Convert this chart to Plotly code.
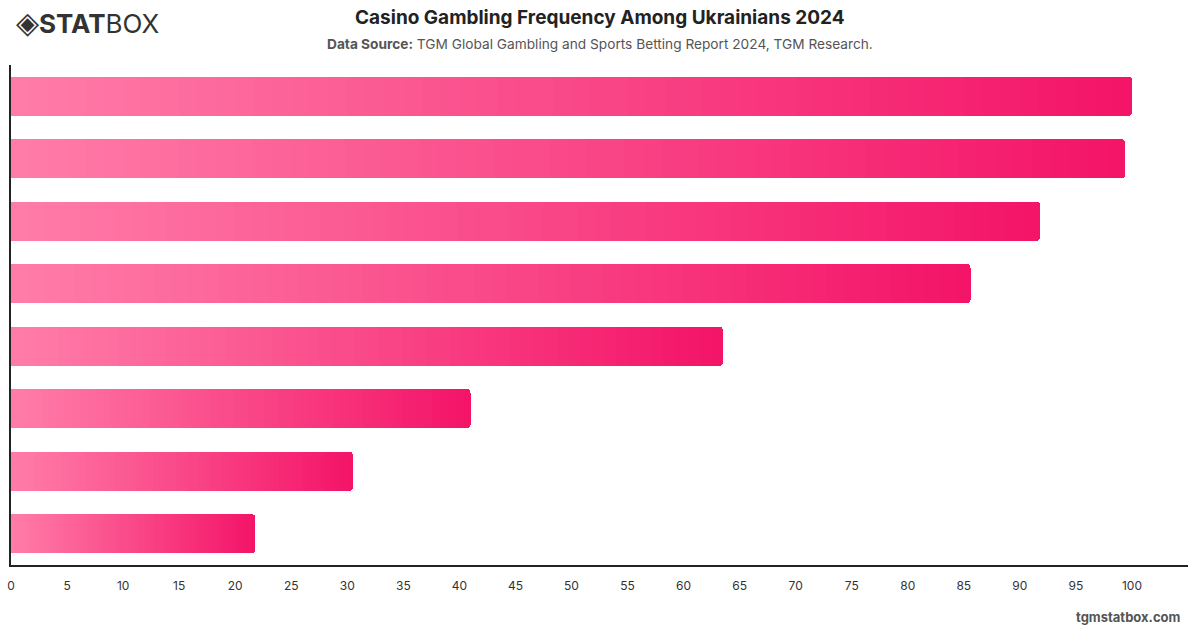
import plotly.graph_objects as go

categories = ["Ever", "Past 5 years", "Past 2 years", "Past year",
              "Past 6 months", "Past 3 months", "Past month", "Past week"]
values = [100.0, 99.4, 91.8, 85.6, 63.5, 41.0, 30.5, 21.8]
tick_vals = list(range(0, 101, 5))

start_rgb = (255, 124, 168)
end_rgb = (244, 20, 104)
n_seg = 60

fig = go.Figure()
for i in range(n_seg):
    t = i / (n_seg - 1)
    c = tuple(round(s + (e - s) * t) for s, e in zip(start_rgb, end_rgb))
    fig.add_trace(go.Bar(
        x=[v / n_seg for v in values],
        y=categories,
        orientation="h",
        marker=dict(color=f"rgb{c}", line=dict(width=0)),
        hoverinfo="skip",
        showlegend=False,
    ))

fig.update_layout(
    width=1200, height=628,
    barmode="stack",
    bargap=0.37,
    barcornerradius=4,
    plot_bgcolor="white",
    paper_bgcolor="white",
    margin=dict(l=11, r=12, t=65, b=63, autoexpand=False),
    font=dict(family="Inter, Roboto, sans-serif", color="#333"),
    xaxis=dict(
        range=[0, 105],
        tickvals=tick_vals,
        showgrid=False,
        zeroline=False,
        showline=True,
        linecolor="#222",
        linewidth=1.5,
        ticks="",
        ticklabelstandoff=9,
        automargin=False,
        tickfont=dict(size=12, color="#333"),
    ),
    yaxis=dict(
        categoryorder="array",
        categoryarray=categories[::-1],
        showticklabels=False,
        showgrid=False,
        zeroline=False,
        showline=True,
        linecolor="#222",
        linewidth=1.5,
        ticks="",
        automargin=False,
    ),
    annotations=[
        dict(text="<b>Casino Gambling Frequency Among Ukrainians 2024</b>",
             x=0.5, y=1, xref="paper", yref="paper", xanchor="center", yanchor="top",
             yshift=-4 + 65, showarrow=False,
             font=dict(size=19, color="#222", family="Inter, Roboto, sans-serif")),
        dict(text="<b>Data Source:</b> TGM Global Gambling and Sports Betting Report 2024, TGM Research.",
             x=0.5, y=1, xref="paper", yref="paper", xanchor="center", yanchor="top",
             yshift=-34 + 65, showarrow=False,
             font=dict(size=13.7, color="#555", family="Inter, Roboto, sans-serif")),
        dict(text="<span style='font-size:30px'>◈</span><b>STAT</b>BOX",
             x=0, y=1, xref="paper", yref="paper", xanchor="left", yanchor="top",
             xshift=3, yshift=-2 + 65, showarrow=False,
             font=dict(size=26, color="#333", family="Inter, Roboto, sans-serif")),
        dict(text="<b>tgmstatbox.com</b>",
             x=1, y=0, xref="paper", yref="paper", xanchor="right", yanchor="top",
             xshift=-5, yshift=-42, showarrow=False,
             font=dict(size=13, color="#555", family="Inter, Roboto, sans-serif")),
    ],
)

fig.write_html("out.html")
